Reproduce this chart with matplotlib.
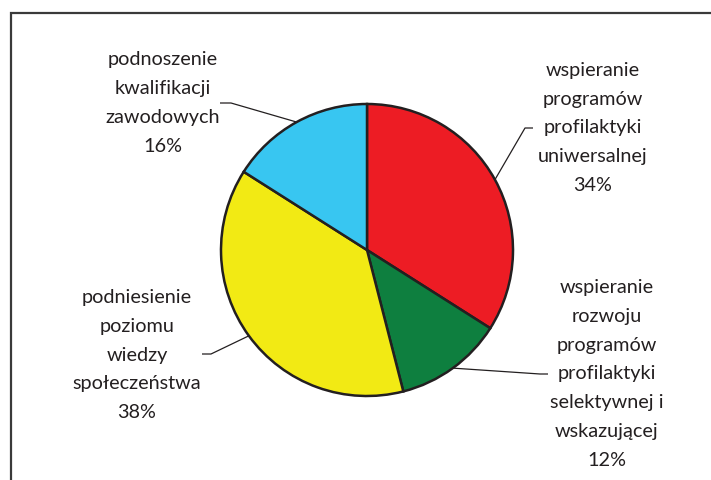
import numpy as np
import matplotlib
matplotlib.use("Agg")
import matplotlib.pyplot as plt
from matplotlib.patches import Rectangle

# Share of activities (percent), drawn clockwise from 12 o'clock
categories = [
    "wspieranie\nprogramów\nprofilaktyki\nuniwersalnej",
    "wspieranie\nrozwoju\nprogramów\nprofilaktyki\nselektywnej i\nwskazującej",
    "podniesienie\npoziomu\nwiedzy\nspołeczeństwa",
    "podnoszenie\nkwalifikacji\nzawodowych",
]
shares = [34, 12, 38, 16]
colors = ["#ED1C24", "#0E7F3F", "#F2EA14", "#38C6F1"]

W, H = 711, 480
fig = plt.figure(figsize=(W / 100, H / 100), dpi=100)
ax = fig.add_axes([0, 0, 1, 1])

# outer frame (runs off the right and bottom edges)
ax.add_patch(Rectangle((11, -20), W + 20, H - 12.5 + 20, fill=False,
                       edgecolor="#3a3a3a", linewidth=1.6))

cx, cy, r = 367, H - 250, 146
wedges, _ = ax.pie(shares, colors=colors, startangle=90, counterclock=False,
                   center=(cx, cy), radius=r, frame=True,
                   wedgeprops=dict(edgecolor="#231F20", linewidth=1.8))
ax.set_xlim(0, W)
ax.set_ylim(0, H)
ax.set_aspect("equal")
ax.axis("off")

font = dict(family="Lato", fontsize=14.3, color="#231F20")

# label block centre, leader elbow start and elbow end
layout = [
    ((593, H - 128), (533, H - 128), (525, H - 128)),
    ((607, H - 374), (548, H - 374), (540, H - 374)),
    ((137, H - 355), (202, H - 354), (211, H - 354)),
    ((163, H - 103), (220, H - 103), (231, H - 103)),
]

for w, cat, val, (tpos, e0, e1) in zip(wedges, categories, shares, layout):
    mid = np.deg2rad((w.theta1 + w.theta2) / 2)
    px, py = cx + r * np.cos(mid), cy + r * np.sin(mid)
    ax.plot([e0[0], e1[0], px], [e0[1], e1[1], py], color="#231F20",
            linewidth=0.9, solid_capstyle="butt")
    ax.text(tpos[0], tpos[1], f"{cat}\n{val}%", ha="center", va="center",
            linespacing=1.85, **font)

fig.savefig("out.png", dpi=100)
